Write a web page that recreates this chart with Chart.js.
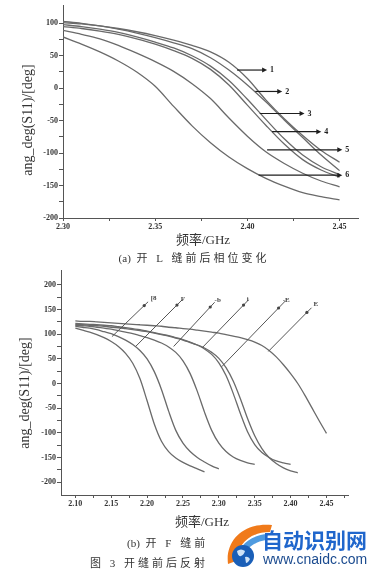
<!DOCTYPE html>
<html><head><meta charset="utf-8">
<script src="https://cdn.jsdelivr.net/npm/chart.js@4/dist/chart.umd.min.js"></script>
<style>
html,body{margin:0;padding:0;background:#fff;}
#wrap{position:relative;width:383px;height:579px;overflow:hidden;background:#fff;}
canvas{position:absolute;left:0;}
.t{position:absolute;white-space:nowrap;color:#333;line-height:1;font-family:"Liberation Serif","Noto Sans CJK SC",serif;}
.c{transform:translate(-50%,-50%);}
.r{transform:translate(-50%,-50%) rotate(-90deg);}
.l{transform:translateY(-50%);}
.n{letter-spacing:0;}
</style></head><body>
<div id="wrap">
<canvas id="ca" width="383" height="232" style="top:0"></canvas>
<canvas id="cb" width="383" height="258" style="top:262px"></canvas>
<div class="t r" style="left:28px;top:120px;font-size:14px;">ang_deg(S11)/[deg]</div>
<div class="t c" style="left:203px;top:239px;font-size:13px;">频率/GHz</div>
<div class="t c" style="left:194px;top:258px;font-size:11px;letter-spacing:3px;"><span class="n">(a)</span> 开 L 缝前后相位变化</div>
<div class="t r" style="left:25px;top:393px;font-size:14px;">ang_deg(S11)/[deg]</div>
<div class="t c" style="left:202px;top:521px;font-size:13px;">频率/GHz</div>
<div class="t l" style="left:127px;top:543px;font-size:11px;letter-spacing:3px;"><span class="n">(b)</span> 开 F 缝前</div>
<div class="t l" style="left:90px;top:563px;font-size:11px;letter-spacing:3px;">图 3 开缝前后反射</div>
<svg width="383" height="579" style="position:absolute;left:0;top:0;pointer-events:none">
  <path d="M228,564 C225,540 244,522 272,525 L270,532 C250,532 238,544 236,561 Z" fill="#f07a1a"/>
  <path d="M236,561 C238,546 250,535 268,534 L266,540 C253,542 244,550 242,561 Z" fill="#4f9be0"/>
  <circle cx="243" cy="556" r="11" fill="#1a5fb8"/>
  <path d="M237,551 q4,-3 8,0 q-1,4 -4,5 q-3,1 -4,-5 Z M245,557 q3,-1 5,2 q-2,4 -4,4 Z" fill="#cfe3f7"/>
</svg>
<div class="t l" style="left:262px;top:539px;font-size:21px;font-weight:bold;color:#1f66cc;font-family:'Noto Sans CJK SC',sans-serif;">自动识别网</div>
<div class="t l" style="left:263px;top:559px;font-size:14px;color:#1b4b8f;font-family:'Liberation Sans',sans-serif;">www.cnaidc.com</div>
</div>
<script>
// ---------- chart (a) data ----------
const freqA = [2.30,2.31,2.32,2.33,2.34,2.35,2.36,2.37,2.38,2.39,2.40,2.41,2.42,2.43,2.44,2.45];
const a1 = [101,99,96,92,87,81,74,66,56,40,15,-18,-47,-73,-96,-114];
const a2 = [103,100,96,91,85,78,70,61,47,28,5,-21,-49,-76,-103,-127];
const a3 = [98,95,91,86,79,71,62,50,34,12,-17,-48,-78,-103,-121,-133];
const a4 = [95,92,88,83,76,68,58,46,29,5,-26,-57,-86,-110,-126,-137];
const a5 = [89,83,76,66,54,41,26,7,-16,-46,-74,-98,-116,-131,-143,-152];
const a6 = [79,68,56,42,25,3,-28,-58,-84,-106,-124,-139,-151,-161,-167,-172];
const yMajorA = [-200,-150,-100,-50,0,50,100];
const yMinorA = [-175,-125,-75,-25,25,75];
const xMajorA = [2.30,2.35,2.40,2.45];
const xMinorA = [2.325,2.375,2.425];
const arrowLabelsA = ['1','2','3','4','5','6'];
const arrowFromA = [2.3944,2.4043,2.4067,2.4134,2.4107,2.4061];
const arrowToA = [2.4107,2.4189,2.4310,2.4401,2.4515,2.4515];
const arrowValA = [28,-5,-39,-67,-95,-134];

// ---------- chart (b) data ----------
const freqB = [2.10,2.11,2.12,2.13,2.14,2.15,2.16,2.17,2.18,2.19,2.20,2.21,2.22,2.23,2.24,2.25,2.26,2.27,2.28,2.29,2.30,2.31,2.32,2.33,2.34,2.35,2.36,2.37,2.38,2.39,2.40,2.41,2.42,2.43,2.44,2.45];
const b1 = [112,108,104,99,93,85,75,61,41,10,-35,-82,-117,-138,-151,-160,-167,-173,-179];
const b2 = [116,114,112,109,105,101,95,88,79,67,50,24,-12,-56,-95,-121,-138,-150,-159,-167,-173];
const b3 = [118,117,116,114,112,110,107,104,101,97,93,88,82,74,63,46,20,-16,-58,-95,-121,-138,-149,-156,-161,-164];
const b4 = [122,121,120,119,118,117,115,113,111,109,106,103,100,97,93,89,84,78,70,59,42,16,-20,-61,-98,-124,-140,-150,-157,-161,-164];
const b5 = [120,119,118,117,116,114,113,111,109,107,105,102,99,96,92,88,83,78,72,63,51,32,5,-31,-71,-106,-132,-150,-162,-171,-177,-181];
const b6 = [127,126,126,125,124,123,122,121,120,119,118,117,116,114,113,111,110,108,106,104,102,99,96,93,89,84,77,67,54,38,20,0,-24,-50,-76,-101];
const yMajorB = [-200,-150,-100,-50,0,50,100,150,200];
const yMinorB = [-175,-125,-75,-25,25,75,125,175];
const xMajorB = [2.10,2.15,2.20,2.25,2.30,2.35,2.40,2.45];
const xMinorB = [2.125,2.175,2.225,2.275,2.325,2.375,2.425,2.475];
const leadLabelsB = ['[8','F','-b','i','-E','E'];
const leadFromF = [2.151,2.184,2.237,2.2765,2.304,2.369];
const leadFromV = [95,75,75,72,34,65];
const leadToF = [2.196,2.2416,2.288,2.3344,2.3832,2.4227];
const leadToV = [158,159,155,159,153,144];
const leadLabelF = [2.205,2.247,2.294,2.339,2.389,2.432];
const leadLabelV = [172,170,168,170,168,160];

// ---------- helpers ----------
const tickFont = {family:'Liberation Serif', size:8, weight:'bold'};
const near = (arr, v) => arr.some(m => Math.abs(m - v) < 1e-6);
function mkSeries(freq, vals) {
  return { data: vals.map((v,i) => ({x: freq[i], y: v})), borderColor:'#6a6a6a', borderWidth:1.3,
           pointRadius:0, cubicInterpolationMode:'monotone', fill:false };
}
function xAxis(min, max, major, minor, h) {
  return { type:'linear', min, max,
    afterBuildTicks: s => { s.ticks = major.concat(minor).sort((p,q)=>p-q).map(v => ({value:v})); },
    afterFit: s => { s.height = h; },
    ticks:{ autoSkip:false, maxRotation:0, padding:1, color:'#333', font:tickFont,
            callback: v => near(major, v) ? v.toFixed(2) : '' },
    grid:{ drawOnChartArea:false, drawTicks:true, tickLength:3, color:'#555' },
    border:{ color:'#555', width:1 } };
}
function yAxis(min, max, major, minor, w) {
  return { type:'linear', min, max,
    afterBuildTicks: s => { s.ticks = major.concat(minor).sort((p,q)=>p-q).map(v => ({value:v})); },
    afterFit: s => { s.width = w; },
    ticks:{ autoSkip:false, padding:1, color:'#333', font:tickFont,
            callback: v => near(major, v) ? String(v) : '' },
    grid:{ drawOnChartArea:false, drawTicks:true, tickLength:4, color:'#555' },
    border:{ color:'#555', width:1 } };
}

const arrowPlugin = { id:'arrowsA', afterDatasetsDraw(chart) {
  const {ctx, scales:{x, y}} = chart;
  ctx.save();
  ctx.strokeStyle = '#1e1e1e'; ctx.fillStyle = '#1e1e1e'; ctx.lineWidth = 1.2;
  ctx.font = 'bold 8px "Liberation Serif"'; ctx.textBaseline = 'middle'; ctx.textAlign = 'left';
  arrowLabelsA.forEach((lab, i) => {
    const x0 = x.getPixelForValue(arrowFromA[i]), x1 = x.getPixelForValue(arrowToA[i]);
    const yy = y.getPixelForValue(arrowValA[i]);
    ctx.beginPath(); ctx.moveTo(x0, yy); ctx.lineTo(x1 - 4, yy); ctx.stroke();
    ctx.beginPath(); ctx.moveTo(x1, yy); ctx.lineTo(x1 - 5, yy - 2.5); ctx.lineTo(x1 - 5, yy + 2.5); ctx.closePath(); ctx.fill();
    ctx.fillText(lab, x1 + 3, yy);
  });
  ctx.restore();
}};

const leadPlugin = { id:'leadB', afterDatasetsDraw(chart) {
  const {ctx, scales:{x, y}} = chart;
  ctx.save();
  ctx.strokeStyle = '#555'; ctx.fillStyle = '#444'; ctx.lineWidth = 1;
  ctx.font = 'bold 7px "Liberation Serif"'; ctx.textBaseline = 'middle'; ctx.textAlign = 'left';
  leadLabelsB.forEach((lab, i) => {
    const x0 = x.getPixelForValue(leadFromF[i]), y0 = y.getPixelForValue(leadFromV[i]);
    const x1 = x.getPixelForValue(leadToF[i]), y1 = y.getPixelForValue(leadToV[i]);
    ctx.beginPath(); ctx.moveTo(x0, y0); ctx.lineTo(x1 + (x1-x0)*0.12, y1 + (y1-y0)*0.12); ctx.stroke();
    ctx.beginPath(); ctx.arc(x1, y1, 1.6, 0, Math.PI*2); ctx.fill();
    ctx.fillText(lab, x.getPixelForValue(leadLabelF[i]), y.getPixelForValue(leadLabelV[i]));
  });
  ctx.restore();
}};

const baseOpts = (padding, scales) => ({
  responsive:false, animation:false, devicePixelRatio:1, events:[],
  layout:{ padding },
  plugins:{ legend:{display:false}, tooltip:{enabled:false} },
  scales
});

new Chart(document.getElementById('ca'), {
  type:'line',
  data:{ datasets: [a1,a2,a3,a4,a5,a6].map(s => mkSeries(freqA, s)) },
  options: baseOpts({left:0, right:25, top:5, bottom:0}, {
    x: xAxis(2.30, 2.46, xMajorA, xMinorA, 14),
    y: yAxis(-200, 127, yMajorA, yMinorA, 63)
  }),
  plugins:[arrowPlugin]
});

new Chart(document.getElementById('cb'), {
  type:'line',
  data:{ datasets: [b1,b2,b3,b4,b5,b6].map(s => mkSeries(freqB, s)) },
  options: baseOpts({left:0, right:35, top:8, bottom:0}, {
    x: xAxis(2.08, 2.48, xMajorB, xMinorB, 25),
    y: yAxis(-226, 230, yMajorB, yMinorB, 61)
  }),
  plugins:[leadPlugin]
});
</script>
</body></html>
